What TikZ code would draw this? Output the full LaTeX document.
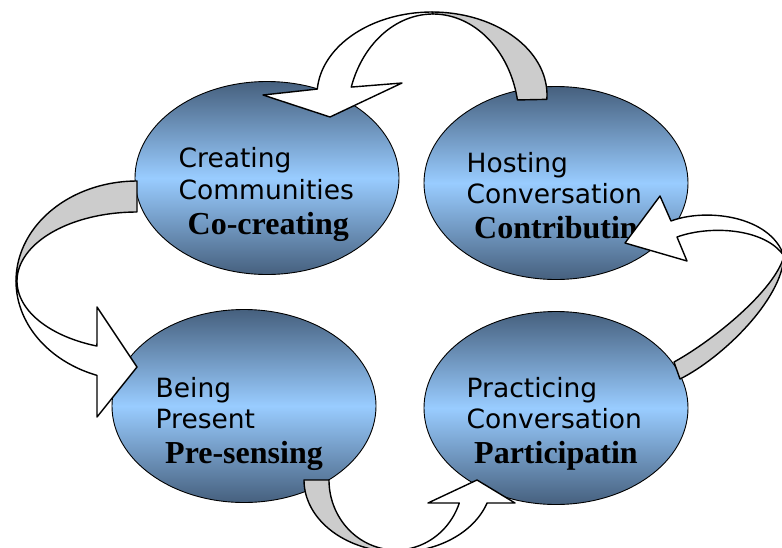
\documentclass[tikz,border=0pt]{standalone}
\usepackage{fontspec}
\usetikzlibrary{shapes.geometric}
\newfontfamily\vfont{DejaVu Sans}
\newfontfamily\tfont{Liberation Serif}
\definecolor{ellDark}{RGB}{70,96,126}
\definecolor{ellLight}{RGB}{153,204,255}
\definecolor{bandGrey}{RGB}{204,204,204}
\begin{document}
\begin{tikzpicture}[x=1pt,y=-1pt,
  phase/.style={ellipse, draw=black, line width=0.9pt, minimum width=264pt, minimum height=193pt, inner sep=0pt, top color=ellDark, bottom color=ellDark, middle color=ellLight},
  reg/.style={font=\vfont\fontsize{26.5}{30}\selectfont, inner sep=0pt, anchor=base west},
  bold/.style={font=\tfont\bfseries\fontsize{32}{34}\selectfont, inner sep=0pt, anchor=base west},
  bandw/.style={draw=black, line width=1.4pt, line join=round, fill=white},
  bandg/.style={draw=black, line width=1.4pt, line join=round, fill=bandGrey}]
\useasboundingbox (0,0) rectangle (782,547);
\clip (0,0) rectangle (782,547);

% phases
\node[phase] (tl) at (267,178) {};
\node[phase] (tr) at (556,183) {};
\node[phase] (bl) at (244,406) {};
\node[phase] (br) at (556,408) {};

% texts
\node[reg] (tl1) at (178.5,167) {Creating};
\node[reg] (tl2) at (178.5,199) {Communities};
\node[bold] (tl3) at (187.5,234) {Co-creating};
\node[reg] (tr1) at (466.5,172) {Hosting};
\node[reg] (tr2) at (466.5,203) {Conversation};
\node[bold] (tr3) at (474,238) {Contributin};
\node[reg] (bl1) at (155.5,397) {Being};
\node[reg] (bl2) at (155.5,428) {Present};
\node[bold] (bl3) at (165,463) {Pre-sensing};
\node[reg] (br1) at (466.5,397) {Practicing};
\node[reg] (br2) at (466.5,428) {Conversation};
\node[bold] (br3) at (474,463) {Participatin};

% arrow 1 : top (Hosting -> Creating)
\path[bandg] plot[domain=270:363,samples=40,variable=\t] ({432+115*cos(\t)},{95+83*sin(\t)})
  -- plot[domain=349.1:270,samples=40,variable=\t] ({433+86*cos(\t)},{120+106*sin(\t)}) -- cycle;
\path[bandw] plot[domain=270:184.1,samples=40,variable=\t] ({432+115*cos(\t)},{95+83*sin(\t)})
  -- (263,95) -- (330,117) -- (402,83)
  -- plot[domain=198.1:270,samples=40,variable=\t] ({433+86*cos(\t)},{120+106*sin(\t)}) -- cycle;

% arrow 2 : left (Creating -> Being Present)
\path[bandg] plot[domain=270:180,samples=40,variable=\t] ({137+121*cos(\t)},{281+100*sin(\t)})
  -- plot[domain=180:270,samples=40,variable=\t] ({137+120*cos(\t)},{281+69*sin(\t)}) -- cycle;
\path[bandw] plot[domain=180:109.3,samples=40,variable=\t] ({137+121*cos(\t)},{281+100*sin(\t)})
  -- (97,417) -- (137,367) -- (97,307)
  -- plot[domain=109.5:180,samples=40,variable=\t] ({137+120*cos(\t)},{281+69*sin(\t)}) -- cycle;

% arrow 3 : bottom (Being Present -> Practicing)
\path[bandg] plot[domain=180:90,samples=40,variable=\t] ({398+94*cos(\t)},{480+72*sin(\t)})
  -- plot[domain=90:180,samples=40,variable=\t] ({396+67*cos(\t)},{480+70*sin(\t)}) -- cycle;
\path[bandw] plot[domain=90:18.6,samples=40,variable=\t] ({398+94*cos(\t)},{480+72*sin(\t)})
  -- (515,503) -- (477,480) -- (428,503)
  -- plot[domain=19.2:90,samples=40,variable=\t] ({396+67*cos(\t)},{480+70*sin(\t)}) -- cycle;

% arrow 4 : right (Practicing -> Hosting)
\coordinate (s4) at (784,256);
\path[bandg] (674,362) -- (680,379) .. controls (722,358) and (782,300) .. (s4)
  .. controls (775,290) and (714,340) .. (674,362) -- cycle;
\path[bandw] (s4) .. controls (770,215) and (705,208) .. (671,221)
  -- (660,196) -- (625,243) -- (687,261) -- (677,237)
  .. controls (710,225) and (765,228) .. (s4) -- cycle;
\end{tikzpicture}
\end{document}
